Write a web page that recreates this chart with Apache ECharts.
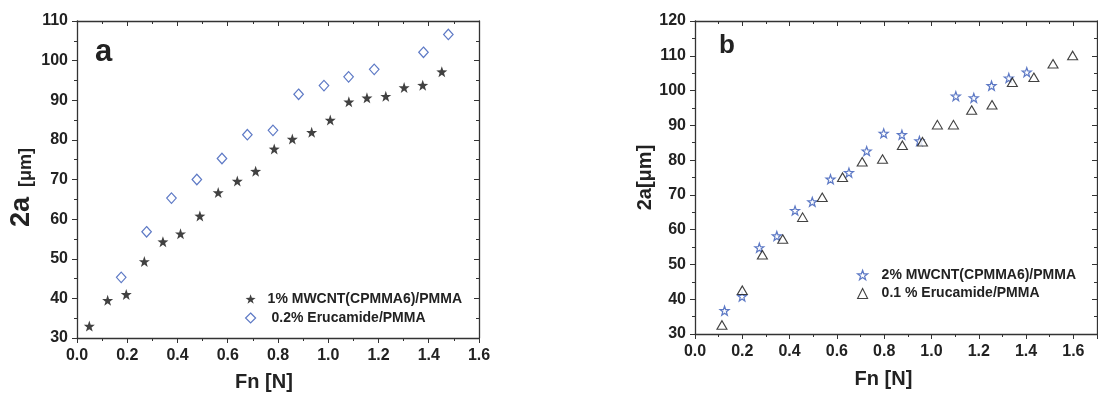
<!DOCTYPE html>
<html>
<head>
<meta charset="utf-8">
<script src="https://cdn.jsdelivr.net/npm/echarts@6/dist/echarts.min.js"></script>
<style>
html,body{margin:0;padding:0;background:#fff;}
#c{width:1098px;height:397px;}
</style>
</head>
<body>
<div id="c"></div>
<script>
// ---- data (panel a) ----
const aStarName = '1% MWCNT(CPMMA6)/PMMA';
const aStarX = [0.049,0.122,0.196,0.268,0.342,0.412,0.489,0.562,0.638,0.711,0.785,0.857,0.934,1.008,1.082,1.154,1.229,1.302,1.376,1.452];
const aStarY = [33.0,39.5,41.0,49.3,54.3,56.3,60.8,66.7,69.6,72.1,77.7,80.2,81.9,85.0,89.6,90.6,91.0,93.2,93.8,97.2];
const aDiaName = ' 0.2% Erucamide/PMMA';
const aDiaX = [0.176,0.277,0.376,0.477,0.577,0.678,0.780,0.882,0.983,1.081,1.183,1.379,1.478];
const aDiaY = [45.3,56.8,65.3,70.0,75.3,81.3,82.4,91.5,93.7,95.9,97.8,102.1,106.6];
// ---- data (panel b) ----
const bStarName = '2% MWCNT(CPMMA6)/PMMA';
const bStarX = [0.125,0.199,0.272,0.346,0.423,0.496,0.573,0.651,0.726,0.798,0.875,0.949,1.103,1.179,1.254,1.327,1.403];
const bStarY = [36.7,40.8,54.8,58.2,65.5,68.0,74.5,76.4,82.6,87.7,87.3,85.5,98.4,97.9,101.4,103.6,105.3];
const bTriName = '0.1 % Erucamide/PMMA';
const bTriX = [0.114,0.200,0.285,0.371,0.455,0.538,0.624,0.707,0.793,0.877,0.962,1.025,1.093,1.170,1.256,1.342,1.433,1.514,1.597];
const bTriY = [32.6,42.6,52.8,57.3,63.6,69.3,75.1,79.5,80.3,84.3,85.3,90.2,90.2,94.4,95.9,102.4,103.8,107.7,110.1];
// ---- axes ----
const xLabel = 'Fn [N]';
const aYLabelMain = '2a';
const aYLabelUnit = '[μm]';
const bYLabel = '2a[μm]';
const aX = {min:0, max:1.6, interval:0.2};
const aY = {min:30, max:110, interval:10};
const bX = {min:0, max:1.7, interval:0.2};
const bY = {min:30, max:120, interval:10};

const zip = (xs, ys) => xs.map((x, i) => [x, ys[i]]);
const STAR = 'path://M0,-10L2.35,-3.24L9.51,-3.09L3.8,1.24L5.88,8.09L0,4L-5.88,8.09L-3.8,1.24L-9.51,-3.09L-2.35,-3.24Z';
const FONT = '"Liberation Sans", Arial, sans-serif';
const TXT = '#222';
const LINE = '#333';
const BLUE = '#3557b7';

const aStarStyle = {color:'#111'};
const aDiaStyle = {color:'#fff', borderColor:BLUE, borderWidth:1.2};
const bStarStyle = {color:'#fff', borderColor:BLUE, borderWidth:1.2};
const bTriStyle = {color:'#fff', borderColor:'#111', borderWidth:1.1};

function xAxis(grid, r, pos, main, gap, shift) {
  return {
    type:'value', gridIndex:grid, position:pos, min:r.min, max:r.max, interval:r.interval,
    name: main ? xLabel : '', nameLocation:'middle', nameGap:gap || 32,
    nameTextStyle:{fontFamily:FONT, fontSize:20, fontWeight:'bold', color:TXT, padding:[0, shift || 0, 0, 0]},
    axisLine:{show:true, onZero:false, lineStyle:{color:LINE, width:1.3}},
    axisTick:{show:true, inside:!main, length:5, lineStyle:{color:LINE, width:1}},
    minorTick:{show:true, splitNumber:2, length:3, lineStyle:{color:LINE, width:1}},
    splitLine:{show:false},
    axisLabel:{show:main, margin:10, fontFamily:FONT, fontSize:16, fontWeight:'bold', color:TXT,
      showMaxLabel: r.max === 1.6, formatter:v => v.toFixed(1)}
  };
}
function yAxis(grid, r, pos, main, nameCfg) {
  const o = {
    type:'value', gridIndex:grid, position:pos, min:r.min, max:r.max, interval:r.interval,
    axisLine:{show:true, onZero:false, lineStyle:{color:LINE, width:1.3}},
    axisTick:{show:true, inside:!main, length:5, lineStyle:{color:LINE, width:1}},
    minorTick:{show:true, splitNumber:2, length:3, lineStyle:{color:LINE, width:1}},
    splitLine:{show:false},
    axisLabel:{show:main, margin:9, fontFamily:FONT, fontSize:16, fontWeight:'bold', color:TXT}
  };
  if (nameCfg) Object.assign(o, nameCfg);
  return o;
}

const chart = echarts.init(document.getElementById('c'), null, {renderer:'canvas'});
chart.setOption({
  animation:false,
  backgroundColor:'#fff',
  grid:[
    {left:77, top:21, width:402, height:320},
    {left:695, top:21, width:402, height:313}
  ],
  xAxis:[
    xAxis(0, aX, 'bottom', true, 34, 28), xAxis(0, aX, 'top', false),
    xAxis(1, bX, 'bottom', true, 35, 25), xAxis(1, bX, 'top', false)
  ],
  yAxis:[
    yAxis(0, aY, 'left', true, {
      name:'{a|' + aYLabelMain + '}{b|' + aYLabelUnit + '}', nameLocation:'middle', nameRotate:90, nameGap:42,
      nameTextStyle:{fontFamily:FONT, color:TXT, padding:[0,16,0,0], rich:{
        a:{fontFamily:FONT, fontSize:27, fontWeight:'bold', color:TXT, verticalAlign:'bottom'},
        b:{fontFamily:FONT, fontSize:18, fontWeight:'bold', color:TXT, verticalAlign:'bottom', padding:[0,0,0,10]}
      }}
    }),
    yAxis(0, aY, 'right', false),
    yAxis(1, bY, 'left', true, {
      name:bYLabel, nameLocation:'middle', nameRotate:90, nameGap:39,
      nameTextStyle:{fontFamily:FONT, fontSize:20, fontWeight:'bold', color:TXT}
    }),
    yAxis(1, bY, 'right', false)
  ],
  legend:[
    {left:240, top:287, orient:'vertical', itemWidth:10, itemHeight:10, itemGap:5,
     textStyle:{fontFamily:FONT, fontSize:14, fontWeight:'bold', color:TXT, lineHeight:14, padding:[0,0,0,7]},
     data:[{name:aStarName, itemStyle:aStarStyle}, {name:aDiaName, itemStyle:aDiaStyle}]},
    {left:852, top:263, orient:'vertical', itemWidth:10, itemHeight:10, itemGap:4.5,
     textStyle:{fontFamily:FONT, fontSize:14, fontWeight:'bold', color:TXT, lineHeight:14, padding:[0,0,0,9]},
     data:[{name:bStarName, itemStyle:bStarStyle}, {name:bTriName, itemStyle:bTriStyle}]}
  ],
  graphic:[
    {type:'text', left:95, top:37, style:{text:'a', fontFamily:FONT, fontSize:31, fontWeight:'bold', fill:TXT}},
    {type:'text', left:719, top:33, style:{text:'b', fontFamily:FONT, fontSize:26, fontWeight:'bold', fill:TXT}}
  ],
  series:[
    {type:'scatter', name:aStarName, xAxisIndex:0, yAxisIndex:0, data:zip(aStarX, aStarY),
     symbol:STAR, symbolSize:[11,11], itemStyle:aStarStyle},
    {type:'scatter', name:aDiaName, xAxisIndex:0, yAxisIndex:0, data:zip(aDiaX, aDiaY),
     symbol:'diamond', symbolSize:[9.5,10.5], itemStyle:aDiaStyle},
    {type:'scatter', name:bStarName, xAxisIndex:2, yAxisIndex:2, data:zip(bStarX, bStarY),
     symbol:STAR, symbolSize:[9,9], itemStyle:bStarStyle},
    {type:'scatter', name:bTriName, xAxisIndex:2, yAxisIndex:2, data:zip(bTriX, bTriY),
     symbol:'triangle', symbolSize:[10,8.5], itemStyle:bTriStyle}
  ]
});
</script>
</body>
</html>
